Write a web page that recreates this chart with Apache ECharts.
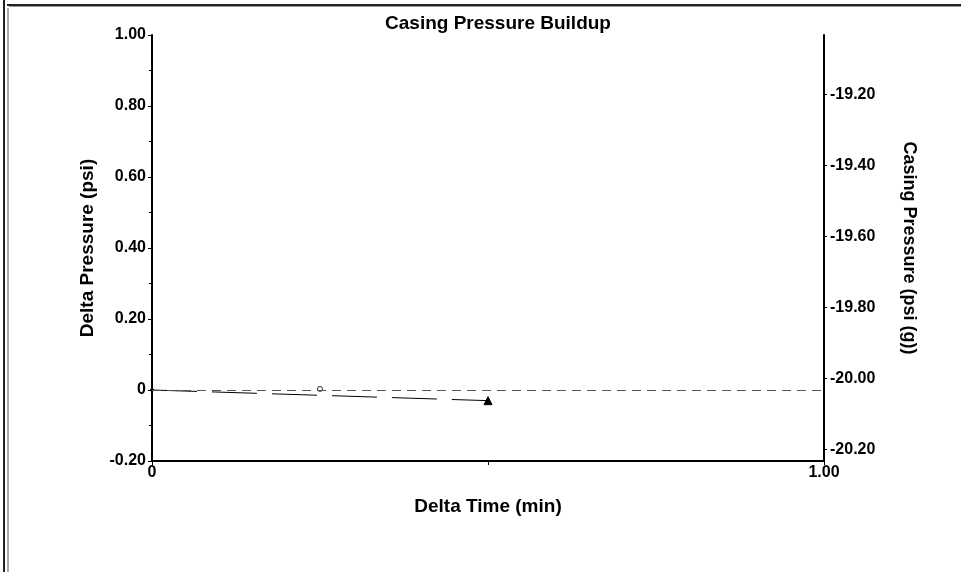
<!DOCTYPE html>
<html>
<head>
<meta charset="utf-8">
<script src="https://cdn.jsdelivr.net/npm/echarts@6/dist/echarts.min.js"></script>
<style>
html,body{margin:0;padding:0;background:#fff;}
#c{width:961px;height:572px;}
</style>
</head>
<body>
<div id="c"></div>
<script>
// Data
const titleText = 'Casing Pressure Buildup';
const xName = 'Delta Time (min)';
const leftName = 'Delta Pressure (psi)';
const rightName = 'Casing Pressure (psi (g))';

const buildupTime = [0, 0.5];          // min
const buildupDelta = [0, -0.03];        // psi
const pointTime = [0.25];
const pointDelta = [0.003];
const zeroRef = [0];

const leftMin = -0.2, leftMax = 1.0, leftStep = 0.2;
const rightMin = -20.232, rightMax = -19.032;
const rightTicks = [-20.2, -20.0, -19.8, -19.6, -19.4, -19.2];
const xTicksLabeled = [0, 1];

const font = '"Liberation Sans", Arial, sans-serif';
const chart = echarts.init(document.getElementById('c'), null, {renderer: 'canvas'});

const buildupData = buildupTime.map((t, i) => [t, buildupDelta[i]]);
const pointData = pointTime.map((t, i) => [t, pointDelta[i]]);

chart.setOption({
  animation: false,
  backgroundColor: '#fff',
  textStyle: {fontFamily: font},
  title: {
    text: titleText,
    left: 493, top: 9, textAlign: 'center',
    textStyle: {fontFamily: font, fontWeight: 'bold', fontSize: 19, color: '#000'}
  },
  grid: {left: 152, right: 137, top: 35, bottom: 111, containLabel: false},
  xAxis: {
    type: 'value', min: 0, max: 1, interval: 0.5,
    name: xName, nameLocation: 'middle', nameGap: 36,
    nameTextStyle: {fontFamily: font, fontWeight: 'bold', fontSize: 19, color: '#000'},
    axisLine: {show: true, onZero: false, lineStyle: {color: '#000', width: 2}},
    axisTick: {show: true, length: 4, lineStyle: {color: '#000', width: 1}},
    axisLabel: {
      margin: 4, color: '#000', fontWeight: 'bold', fontSize: 16, fontFamily: font,
      formatter: v => (xTicksLabeled.indexOf(v) >= 0 ? (v === 0 ? '0' : v.toFixed(2)) : '')
    },
    splitLine: {show: false}
  },
  yAxis: [{
    type: 'value', position: 'left', min: leftMin, max: leftMax, interval: leftStep,
    name: leftName, nameLocation: 'middle', nameGap: 55,
    nameTextStyle: {fontFamily: font, fontWeight: 'bold', fontSize: 19, color: '#000'},
    axisLine: {show: true, onZero: false, lineStyle: {color: '#000', width: 2}},
    axisTick: {show: true, length: 4, lineStyle: {color: '#000'}},
    minorTick: {show: true, splitNumber: 2, length: 3, lineStyle: {color: '#000'}},
    axisLabel: {
      margin: 6, color: '#000', fontWeight: 'bold', fontSize: 16, fontFamily: font,
      formatter: v => (Math.abs(v) < 1e-9 ? '0' : v.toFixed(2))
    },
    splitLine: {show: false}
  }, {
    type: 'value', position: 'right', min: rightMin, max: rightMax,
    name: rightName, nameLocation: 'middle', nameGap: 76, nameRotate: -90,
    nameTextStyle: {fontFamily: font, fontWeight: 'bold', fontSize: 18, color: '#000'},
    axisLine: {show: true, onZero: false, lineStyle: {color: '#000', width: 2}},
    axisTick: {show: true, length: 3, customValues: rightTicks, lineStyle: {color: '#000'}},
    axisLabel: {
      margin: 6, color: '#000', fontWeight: 'bold', fontSize: 16, fontFamily: font,
      customValues: rightTicks, formatter: v => v.toFixed(2)
    },
    splitLine: {show: false}
  }],
  series: [{
    type: 'line', name: 'zero', data: zeroRef.map(() => null), symbol: 'none',
    markLine: {
      silent: true, symbol: 'none', label: {show: false},
      lineStyle: {color: '#555', width: 1, type: [9, 6]},
      data: zeroRef.map(v => ({yAxis: v}))
    }
  }, {
    type: 'line', name: 'buildup', data: buildupData, yAxisIndex: 0,
    lineStyle: {color: '#000', width: 1, type: [45, 15]},
    symbol: (val, p) => (p.dataIndex === buildupData.length - 1 ? 'triangle' : 'circle'),
    symbolSize: (val, p) => (p.dataIndex === buildupData.length - 1 ? 8 : 3),
    itemStyle: {color: '#000', borderColor: '#000'}
  }, {
    type: 'scatter', name: 'point', data: pointData, yAxisIndex: 0,
    symbol: 'circle', symbolSize: 5,
    itemStyle: {color: '#fff', borderColor: '#000', borderWidth: 1}
  }],
  graphic: [
    {type: 'rect', shape: {x: 3, y: 0, width: 2, height: 572}, style: {fill: '#222'}, silent: true},
    {type: 'rect', shape: {x: 7, y: 8, width: 2, height: 564}, style: {fill: '#aaa'}, silent: true},
    {type: 'rect', shape: {x: 7, y: 4, width: 954, height: 2}, style: {fill: '#222'}, silent: true},
    {type: 'rect', shape: {x: 9, y: 6, width: 952, height: 1}, style: {fill: '#999'}, silent: true}
  ]
});
</script>
</body>
</html>
